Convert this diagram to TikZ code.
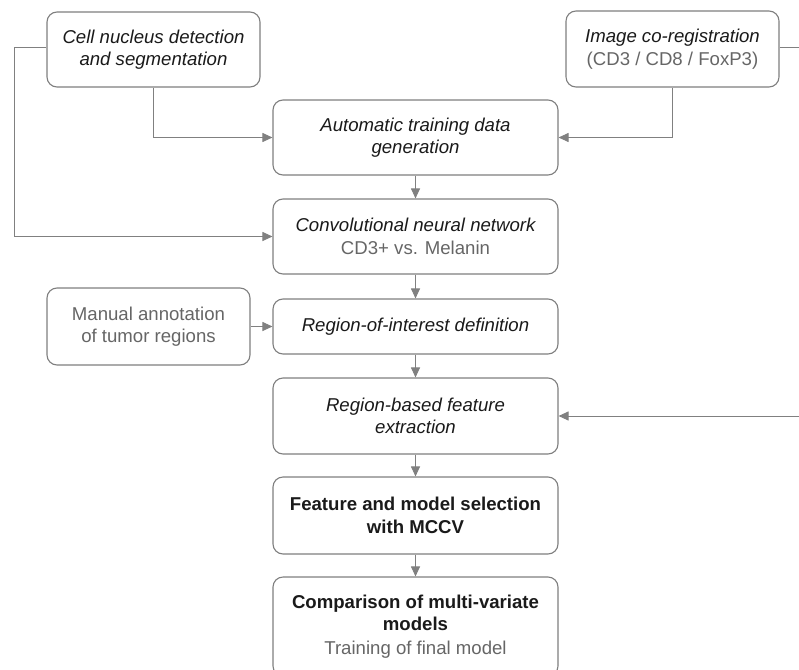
\documentclass[tikz,border=0pt]{standalone}
\usepackage{fontspec}
\setmainfont{Liberation Sans}
\usetikzlibrary{arrows.meta}
\definecolor{boxgray}{HTML}{7F7F7F}
\definecolor{txtgray}{HTML}{666666}
\definecolor{txtdark}{HTML}{1A1A1A}
\definecolor{arrgray}{HTML}{808080}
\tikzset{
  stepbox/.style={draw=boxgray, line width=1.1pt, rounded corners=10pt, fill=white,
    align=center, inner sep=0pt, text=txtdark,
    font=\fontsize{18.6}{22.5}\selectfont},
  conn/.style={draw=arrgray, line width=1pt},
  arr/.style={conn, -{Triangle[length=10pt,width=9pt]}},
}
\newcommand{\gtxt}[1]{{\color{txtgray}#1}}
\begin{document}
\begin{tikzpicture}[x=1pt,y=-1pt]
\useasboundingbox (0,0) rectangle (799,669);
\clip (0,0) rectangle (799,669);
\node[stepbox, minimum width=213pt, minimum height=75pt] (cn) at (153.5,49.5)
  {\itshape Cell nucleus detection\\\itshape and segmentation};
\node[stepbox, minimum width=213pt, minimum height=76pt] (ic) at (672.5,49)
  {\itshape Image co-registration\\\gtxt{(CD3 / CD8 / FoxP3)}};
\node[stepbox, minimum width=285pt, minimum height=75pt] (auto) at (415.5,137.5)
  {\itshape Automatic training data\\\itshape generation};
\node[stepbox, minimum width=285pt, minimum height=75pt] (cnn) at (415.5,236.5)
  {\itshape Convolutional neural network\\\gtxt{CD3+ vs. Melanin}};
\node[stepbox, minimum width=203pt, minimum height=77pt] (man) at (148.5,326.5)
  {\gtxt{Manual annotation}\\\gtxt{of tumor regions}};
\node[stepbox, minimum width=285pt, minimum height=55pt] (roi) at (415.5,326.5)
  {\itshape Region-of-interest definition};
\node[stepbox, minimum width=285pt, minimum height=76pt] (rb) at (415.5,416)
  {\itshape Region-based feature\\\itshape extraction};
\node[stepbox, minimum width=285pt, minimum height=77pt] (fs) at (415.5,515.5)
  {\bfseries Feature and model selection\\\bfseries with MCCV};
\node[stepbox, minimum width=285pt, minimum height=99pt] (cmp) at (415.5,626.5)
  {\bfseries Comparison of multi-variate\\\bfseries models\\[1pt]\gtxt{Training of final model}};
\coordinate (leftx) at (14,48);
\coordinate (rtop) at (799,48);
\coordinate (rmid) at (799,416);
\draw[arr] (cn.west |- leftx) -- (leftx) |- (cnn.west);
\draw[arr] (cn.south) |- (auto.west);
\draw[conn] (ic.east |- rtop) -- (rtop);
\draw[arr] (ic.south) |- (auto.east);
\draw[arr] (auto.south) -- (cnn.north);
\draw[arr] (cnn.south) -- (roi.north);
\draw[arr] (man.east) -- (roi.west);
\draw[arr] (roi.south) -- (rb.north);
\draw[arr] (rmid) -- (rb.east);
\draw[arr] (rb.south) -- (fs.north);
\draw[arr] (fs.south) -- (cmp.north);
\end{tikzpicture}
\end{document}
